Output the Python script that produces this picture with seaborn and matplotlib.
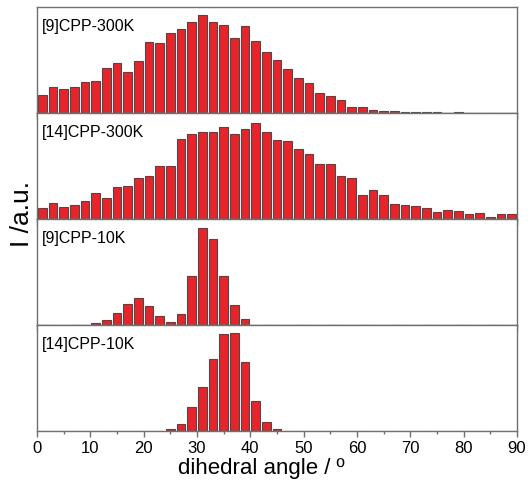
import numpy as np
import pandas as pd
import matplotlib
matplotlib.use('Agg')
import matplotlib.pyplot as plt
import seaborn as sns

# histogram bins: 2 degree wide, 0..90
bin_centers = list(range(1, 90, 2))

cpp9_300k = [55, 76, 71, 76, 91, 96, 135, 150, 121, 155,
             211, 209, 239, 251, 271, 292, 271, 263, 225, 260,
             216, 182, 159, 130, 105, 88, 59, 51, 40, 19,
             17, 9, 7, 6, 4, 4, 2, 3, 0, 2,
             0, 0, 0, 0, 0]
cpp14_300k = [32, 48, 37, 41, 54, 79, 64, 96, 98, 123,
              129, 160, 160, 242, 255, 261, 261, 277, 256, 271,
              289, 262, 237, 235, 210, 197, 164, 166, 129, 123,
              73, 87, 71, 46, 43, 38, 34, 22, 27, 24,
              14, 18, 5, 14, 16]
cpp9_10k = [0, 0, 0, 0, 1, 6, 14, 36, 64, 82,
            57, 26, 9, 33, 149, 293, 261, 149, 61, 17,
            1, 0, 0, 0, 0, 0, 0, 0, 0, 0,
            0, 0, 0, 0, 0, 0, 0, 0, 0, 0,
            0, 0, 0, 0, 0]
cpp14_10k = [0, 0, 0, 0, 0, 0, 0, 0, 0, 0,
             0, 1, 6, 20, 71, 130, 212, 288, 290, 205,
             90, 28, 6, 0, 0, 0, 0, 0, 0, 0,
             0, 0, 0, 0, 0, 0, 0, 0, 0, 0,
             0, 0, 0, 0, 0]

panel_labels = ['[9]CPP-300K', '[14]CPP-300K', '[9]CPP-10K', '[14]CPP-10K']
panel_data = [cpp9_300k, cpp14_300k, cpp9_10k, cpp14_10k]
panel_ymax = [316, 319, 321, 314]

sns.set_style('ticks')
plt.rcParams['font.family'] = ['Liberation Sans', 'DejaVu Sans']
plt.rcParams['text.color'] = 'black'
plt.rcParams['axes.labelcolor'] = 'black'
plt.rcParams['xtick.labelcolor'] = 'black'

fig, axes = plt.subplots(nrows=4, ncols=1, figsize=(5.3, 4.82), dpi=100, sharex=True)
fig.subplots_adjust(left=0.0698, right=0.9755, top=0.9855, bottom=0.1058, hspace=0)

bar_color = '#e8242b'
spine_color = '#707070'

for ax, label, vals, ymax in zip(axes, panel_labels, panel_data, panel_ymax):
    df = pd.DataFrame({'angle': bin_centers, 'count': vals})
    sns.histplot(data=df, x='angle', weights='count', binwidth=2, binrange=(0, 90), ax=ax,
                 color=bar_color, edgecolor='#4a4a4a', linewidth=0.8,
                 alpha=1, shrink=0.84)
    ax.set_xlim(0, 90)
    ax.set_ylim(0, ymax)
    ax.set_yticks([])
    ax.set_ylabel('')
    ax.text(0.01, 0.89, label, transform=ax.transAxes, ha='left', va='top', fontsize=11.5)
    for sp in ax.spines.values():
        sp.set_visible(True)
        sp.set_color(spine_color)
        sp.set_linewidth(1.0)
    ax.set_xticks(np.arange(0, 91, 10))
    ax.set_xticks(np.arange(5, 90, 10), minor=True)
    ax.tick_params(axis='x', which='major', direction='out', length=4, width=1, color=spine_color, labelsize=12)
    ax.tick_params(axis='x', which='minor', direction='out', length=2, width=1, color=spine_color)

axes[-1].set_xlabel('dihedral angle / º', fontsize=16, labelpad=1)
axes[-1].xaxis.label.set_x(0.467)
fig.text(0.042, 0.555, 'I /a.u.', rotation=90, ha='center', va='center', fontsize=19)

fig.savefig('out.png', dpi=100)
